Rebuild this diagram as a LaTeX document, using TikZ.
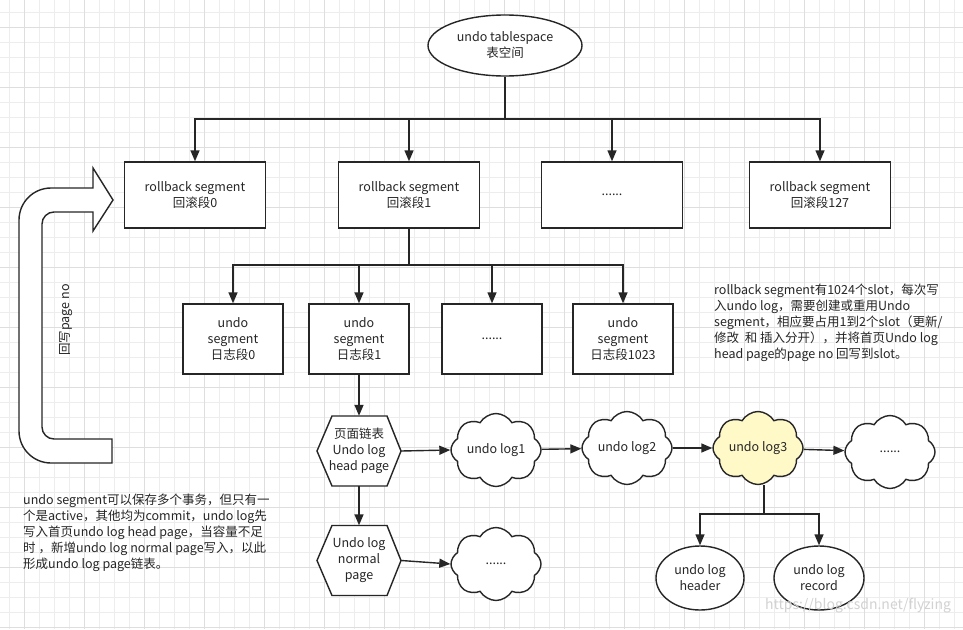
\documentclass[tikz,border=0pt]{standalone}
\usepackage{fontspec}
\setmainfont{Noto Sans CJK SC}
\usetikzlibrary{arrows.meta,positioning,shapes.geometric,shapes.symbols}

\begin{document}
\begin{tikzpicture}[x=1pt,y=-1pt,
    every node/.style={font=\fontsize{12.5}{16}\selectfont, text=black!85},
    line/.style={draw=black!85, line width=1.4pt},
    arr/.style={line, -{Triangle[length=11pt,width=9pt]}},
    rollbox/.style={line, fill=white, minimum width=141pt, minimum height=66pt, align=center, inner sep=0pt},
    segbox/.style={line, fill=white, minimum width=100pt, minimum height=70pt, align=center, inner sep=0pt},
    hexbox/.style={minimum width=84pt, minimum height=70pt, align=center, inner sep=0pt},
    logcloud/.style={line, fill=white, cloud, cloud puffs=8, cloud puff arc=120, cloud ignores aspect, minimum width=90pt, minimum height=73pt, inner sep=0pt, align=center},
    oval/.style={line, fill=white, ellipse, inner sep=0pt, align=center},
    note/.style={align=left, anchor=north west, inner sep=0pt, font=\fontsize{12.5}{16}\selectfont}]

  % background and grid
  \useasboundingbox (0,0) rectangle (963,629);
  \fill[white] (0,0) rectangle (963,629);
  \foreach \gx in {0,...,63} \draw[gray!14, line width=0.6pt] (9.3+15*\gx,0) -- (9.3+15*\gx,629);
  \foreach \gy in {0,...,41} \draw[gray!14, line width=0.6pt] (0,12.7+15*\gy) -- (963,12.7+15*\gy);
  \foreach \gx in {0,...,15} \draw[gray!26, line width=0.6pt] (24.3+60*\gx,0) -- (24.3+60*\gx,629);
  \foreach \gy in {0,...,10} \draw[gray!26, line width=0.6pt] (0,27.3+60*\gy) -- (963,27.3+60*\gy);

  % tablespace and rollback segments
  \node[oval, minimum width=154pt, minimum height=61pt] (space) at (505,45.5) {undo tablespace\\表空间};
  \node[rollbox] (rb0) at (195,195) {rollback segment\\回滚段0};
  \node[rollbox] (rb1) at (409,195) {rollback segment\\回滚段1};
  \node[rollbox] (rbx) at (612,195) {......};
  \node[rollbox] (rb127) at (820,195) {rollback segment\\回滚段127};
  \coordinate (fork0) at (505,119);
  \draw[line] (space) -- (fork0);
  \foreach \n in {rb0,rb1,rbx,rb127} \draw[arr] (fork0) -| (\n.north);

  % undo segments
  \node[segbox] (us0) at (233,339) {undo\\segment\\日志段0};
  \node[segbox] (us1) at (359,339) {undo\\segment\\日志段1};
  \node[segbox] (usx) at (492,339) {......};
  \node[segbox] (us1023) at (623,339) {undo\\segment\\日志段1023};
  \coordinate (fork1) at (409,265);
  \draw[line] (rb1) -- (fork1);
  \foreach \n in {us0,us1,usx,us1023} \draw[arr] (fork1) -| (\n.north);

  % log pages
  \foreach \cy in {451,560.5}
    \draw[line, fill=white] (317,\cy) -- ++(15,-35) -- ++(55,0) -- ++(14,35) -- ++(-14,35) -- ++(-55,0) -- cycle;
  \node[hexbox] (headpage) at (359,451) {页面链表\\Undo log\\head page};
  \node[hexbox] (normpage) at (359,560.5) {Undo log\\normal\\page};
  \draw[arr] (us1) -- (headpage.north);
  \draw[arr] (headpage.south) -- (normpage.north);

  % undo logs
  \node[logcloud] (log1) at (496,450) {undo log1};
  \node[logcloud] (logn) at (496,564) {......};
  \node[logcloud] (log2) at (627,448) {undo log2};
  \node[logcloud, fill={rgb,255:red,255;green,249;blue,200}] (log3) at (758,448) {undo log3};
  \node[logcloud] (log4) at (890,452) {......};
  \draw[arr] (headpage.east) -- (log1.west);
  \draw[arr] (normpage.east) -- (logn.west);
  \draw[arr] (log1) -- (log2);
  \draw[arr] (log2) -- (log3);
  \draw[arr] (log3) -- (log4);

  % parts of undo log3
  \node[oval, minimum width=88pt, minimum height=64pt] (header) at (700,578) {undo log\\header};
  \node[oval, minimum width=90pt, minimum height=64pt] (record) at (819,578) {undo log\\record};
  \coordinate (fork3) at (764,514);
  \draw[line] (log3.south -| fork3) -- (fork3);
  \draw[arr] (fork3) -| (header.north);
  \draw[arr] (fork3) -| (record.north);

  % write back arrow
  \draw[line, fill=white] (112,463) -- (51,463) arc[start angle=90, end angle=180, radius=32]
    -- (19,220) arc[start angle=180, end angle=270, radius=32]
    -- (93,188) -- (93,168) -- (113,200) -- (93,231) -- (93,212) -- (54,212)
    arc[start angle=270, end angle=180, radius=12] -- (42,427)
    arc[start angle=180, end angle=90, radius=12] -- (112,439) -- cycle;
  \node[rotate=90] (writeback) at (66,320) {回写page no};

  % notes
  \node[note] (slotnote) at (714,284) {rollback segment有1024个slot，每次写\\入undo log，需要创建或重用Undo\\segment，相应要占用1到2个slot（更新/\\修改\ \ 和 插入分开），并将首页Undo log\\head page的page no 回写到slot。};
  \node[note] (segnote) at (23,494) {undo segment可以保存多个事务，但只有一\\个是active，其他均为commit，undo log先\\写入首页undo log head page，当容量不足\\时 ，新增undo log normal page写入，以此\\形成undo log page链表。};
  \node[text=gray!35, font=\fontsize{14}{16}\selectfont] (mark) at (858,606) {https://blog.csdn.net/flyzing};
\end{tikzpicture}
\end{document}
